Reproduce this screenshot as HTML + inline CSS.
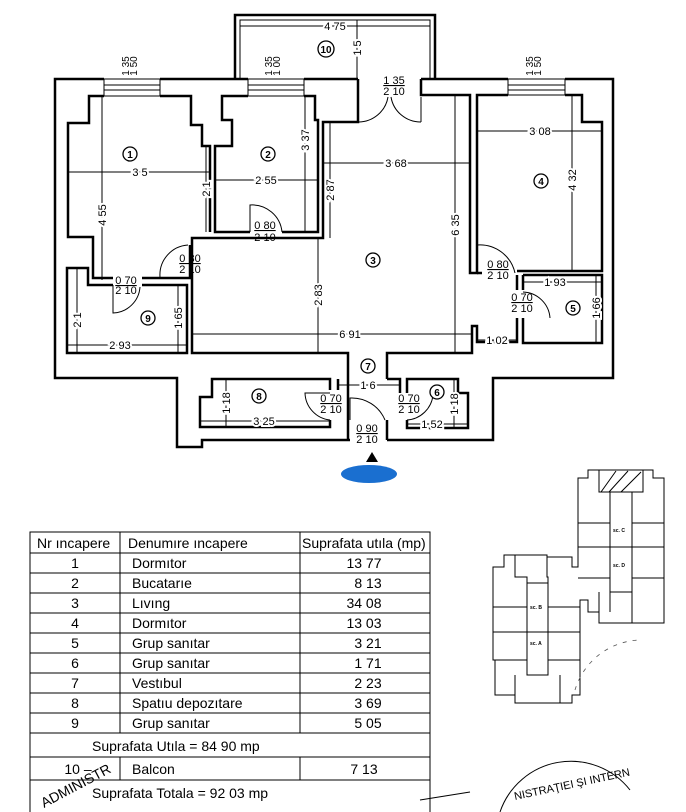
<!DOCTYPE html>
<html><head><meta charset="utf-8"><style>
html,body{margin:0;padding:0;background:#fff;}
svg{display:block;}
.w{fill:none;stroke:#000;stroke-width:2.5;stroke-linejoin:miter}
.d{fill:none;stroke:#000;stroke-width:1}
.t{font-family:"Liberation Sans",sans-serif;font-size:11px;fill:#000}
.tb{font-family:"Liberation Sans",sans-serif;font-size:14px;fill:#000}
.c{fill:#fff;stroke:#000;stroke-width:1.3}
.n{font-family:"Liberation Sans",sans-serif;font-size:10px;fill:#000;text-anchor:middle;font-weight:bold}
</style></head><body>
<svg width="686" height="812" viewBox="0 0 686 812" xmlns="http://www.w3.org/2000/svg">
<path class="w" d="M235,79 V15 H435 V79"/>
<path class="d" d="M240,79 V20 H430 V79" stroke-width="1.5"/>
<path class="w" d="M104,79 H55 V378 H177 V447 H202 V440 H350 M387,440 H493 V378 H613 V79 H565 M508,79 H421 M358,79 H304 M248,79 H160"/>
<g class="d"><rect x="104" y="79" width="56" height="17"/><line x1="104" y1="85" x2="160" y2="85"/><line x1="104" y1="90" x2="160" y2="90"/>
<rect x="248" y="79" width="56" height="17"/><line x1="248" y1="85" x2="304" y2="85"/><line x1="248" y1="90" x2="304" y2="90"/>
<rect x="508" y="79" width="57" height="16"/><line x1="508" y1="85" x2="565" y2="85"/><line x1="508" y1="90" x2="565" y2="90"/></g>
<path class="w" d="M104,96 H89 V123 H68 V237 H93 V278 H113 M142,278 H190 V245 M160,96 H191 V125 H202 V146 H210 V232"/>
<path class="w" d="M248,96 H222 V120 H232 V146 H215 V232 H250 M282,232 H318 V120 H315 V96 H304"/>
<path class="w" d="M192,278 V238 H323 V122 H358 V79 M421,79 V95 H470 V273 H477 V95 H508"/>
<path class="w" d="M192,278 V353 H348 V440 M387,440 V420 M387,379 V353 H472 V326 H477 V342 H517 V318 M517,290 V275"/>
<path class="w" d="M565,95 H582 V122 H602 V271 H517 M477,273 H482"/>
<path class="w" d="M523,275 H602 V343 H523 V318 M523,290 V275"/>
<path class="w" d="M113,285 H88 V268 H67 V353 H187 V285 H142"/>
<path class="w" d="M330,390 V379 H212 V397 H200 V427 H330 V420"/>
<path class="w" d="M407,393 V379 H458 V393 H468 V428 H407 V420"/>
<path class="w" d="M338,379 V390 M387,379 H400 V393"/>
<g class="d" stroke-width="1.2">
<path d="M250,232 V205 A30,30 0 0 1 282,232"/>
<path d="M188,245 A30,30 0 0 0 160,277"/>
<path d="M113,285 V313 A28,28 0 0 0 140,287"/>
<path d="M477,273 V245 A36,36 0 0 1 515,273"/>
<path d="M523,292 A28,28 0 0 1 550,318"/>
<path d="M358,122 A30,30 0 0 0 388,97 M421,122 A30,30 0 0 1 391,97 M358,122 V97 M421,122 V97"/>
<path d="M330,420 A28,28 0 0 1 305,393 H330"/>
<path d="M407,420 A28,28 0 0 0 433,395"/>
<path d="M350,420 V398 A36,36 0 0 1 385,420"/>
</g>
<g class="d" stroke-width="0.9">
<line x1="240" y1="26" x2="430" y2="26"/><line x1="357" y1="20" x2="357" y2="79"/>
<line x1="68" y1="172" x2="210" y2="172"/><line x1="102" y1="96" x2="102" y2="280"/><line x1="206" y1="146" x2="206" y2="232"/>
<line x1="215" y1="180" x2="318" y2="180"/><line x1="305" y1="96" x2="305" y2="232"/>
<line x1="330" y1="122" x2="330" y2="238"/><line x1="323" y1="163" x2="470" y2="163"/>
<line x1="455" y1="96" x2="455" y2="353"/><line x1="318" y1="238" x2="318" y2="353"/>
<line x1="192" y1="334" x2="472" y2="334"/>
<line x1="477" y1="131" x2="602" y2="131"/><line x1="572" y1="96" x2="572" y2="271"/>
<line x1="523" y1="282" x2="602" y2="282"/><line x1="596" y1="275" x2="596" y2="343"/>
<line x1="477" y1="340" x2="517" y2="340"/>
<line x1="77" y1="268" x2="77" y2="353"/><line x1="67" y1="345" x2="187" y2="345"/><line x1="178" y1="285" x2="178" y2="353"/>
<line x1="226" y1="379" x2="226" y2="427"/><line x1="200" y1="421" x2="330" y2="421"/>
<line x1="338" y1="385" x2="400" y2="385"/>
<line x1="454" y1="379" x2="454" y2="428"/><line x1="407" y1="424" x2="468" y2="424"/>
</g>
<g class="t" text-anchor="middle">
<text x="335" y="30" style="paint-order:stroke;stroke:#fff;stroke-width:4">4 75</text>
<text x="140" y="176" style="paint-order:stroke;stroke:#fff;stroke-width:4">3 5</text>
<text x="266" y="184" style="paint-order:stroke;stroke:#fff;stroke-width:4">2 55</text>
<text x="396" y="167" style="paint-order:stroke;stroke:#fff;stroke-width:4">3 68</text>
<text x="350" y="338" style="paint-order:stroke;stroke:#fff;stroke-width:4">6 91</text>
<text x="540" y="135" style="paint-order:stroke;stroke:#fff;stroke-width:4">3 08</text>
<text x="555" y="286" style="paint-order:stroke;stroke:#fff;stroke-width:4">1 93</text>
<text x="497" y="344" style="paint-order:stroke;stroke:#fff;stroke-width:4">1 02</text>
<text x="120" y="349" style="paint-order:stroke;stroke:#fff;stroke-width:4">2 93</text>
<text x="264" y="425" style="paint-order:stroke;stroke:#fff;stroke-width:4">3 25</text>
<text x="368" y="389" style="paint-order:stroke;stroke:#fff;stroke-width:4">1 6</text>
<text x="432" y="428" style="paint-order:stroke;stroke:#fff;stroke-width:4">1 52</text>
<g style="paint-order:stroke;stroke:#fff;stroke-width:4">
<text transform="translate(361,48) rotate(-90)">1 5</text>
<text transform="translate(106,215) rotate(-90)">4 55</text>
<text transform="translate(210,189) rotate(-90)">2 1</text>
<text transform="translate(309,140) rotate(-90)">3 37</text>
<text transform="translate(334,190) rotate(-90)">2 87</text>
<text transform="translate(459,225) rotate(-90)">6 35</text>
<text transform="translate(322,295) rotate(-90)">2 83</text>
<text transform="translate(576,180) rotate(-90)">4 32</text>
<text transform="translate(600,308) rotate(-90)">1 66</text>
<text transform="translate(81,320) rotate(-90)">2 1</text>
<text transform="translate(182,318) rotate(-90)">1 65</text>
<text transform="translate(230,403) rotate(-90)">1 18</text>
<text transform="translate(458,404) rotate(-90)">1 18</text>
</g>
<text transform="translate(129,66) rotate(-90)" font-size="10">1 35</text>
<text transform="translate(137,66) rotate(-90)" font-size="10">1 50</text>
<text transform="translate(272,66) rotate(-90)" font-size="10">1 35</text>
<text transform="translate(280,66) rotate(-90)" font-size="10">1 00</text>
<text transform="translate(533,66) rotate(-90)" font-size="10">1 35</text>
<text transform="translate(541,66) rotate(-90)" font-size="10">1 50</text>
</g>
<g class="t" text-anchor="middle" font-size="10">
<text x="394" y="84" text-decoration="underline">1 35</text><text x="394" y="95">2 10</text>
<text x="265" y="229" text-decoration="underline">0 80</text><text x="265" y="241">2 10</text>
<text x="190" y="262" text-decoration="underline">0 80</text><text x="190" y="273">2 10</text>
<text x="126" y="284" text-decoration="underline">0 70</text><text x="126" y="294">2 10</text>
<text x="498" y="268" text-decoration="underline">0 80</text><text x="498" y="279">2 10</text>
<text x="522" y="301" text-decoration="underline">0 70</text><text x="522" y="312">2 10</text>
<text x="331" y="402" text-decoration="underline">0 70</text><text x="331" y="413">2 10</text>
<text x="409" y="402" text-decoration="underline">0 70</text><text x="409" y="413">2 10</text>
<text x="367" y="432" text-decoration="underline">0 90</text><text x="367" y="443">2 10</text>
</g>
<g>
<circle class="c" cx="130" cy="154" r="7"/><text class="n" x="130" y="158">1</text>
<circle class="c" cx="268" cy="154" r="7"/><text class="n" x="268" y="158">2</text>
<circle class="c" cx="373" cy="260" r="7"/><text class="n" x="373" y="264">3</text>
<circle class="c" cx="541" cy="181" r="7"/><text class="n" x="541" y="185">4</text>
<circle class="c" cx="573" cy="308" r="7"/><text class="n" x="573" y="312">5</text>
<circle class="c" cx="437" cy="392" r="7"/><text class="n" x="437" y="396">6</text>
<circle class="c" cx="368" cy="366" r="7"/><text class="n" x="368" y="370">7</text>
<circle class="c" cx="259" cy="396" r="7"/><text class="n" x="259" y="400">8</text>
<circle class="c" cx="148" cy="318" r="7"/><text class="n" x="148" y="322">9</text>
<circle class="c" cx="326" cy="49" r="8"/><text class="n" x="326" y="53" font-size="9">10</text>
</g>
<polygon points="372,452 366,462 378,462" fill="#000"/>
<ellipse cx="369" cy="474" rx="28" ry="9" fill="#1a6fd0"/>
<g class="d" stroke-width="1.3">
<rect x="30" y="532" width="400" height="290"/>
<line x1="120" y1="532" x2="120" y2="733"/><line x1="300" y1="532" x2="300" y2="733"/>
<line x1="120" y1="757" x2="120" y2="780"/><line x1="300" y1="757" x2="300" y2="780"/>
<line x1="30" y1="553" x2="430" y2="553"/><line x1="30" y1="573" x2="430" y2="573"/><line x1="30" y1="593" x2="430" y2="593"/>
<line x1="30" y1="613" x2="430" y2="613"/><line x1="30" y1="633" x2="430" y2="633"/><line x1="30" y1="653" x2="430" y2="653"/>
<line x1="30" y1="673" x2="430" y2="673"/><line x1="30" y1="693" x2="430" y2="693"/><line x1="30" y1="713" x2="430" y2="713"/>
<line x1="30" y1="733" x2="430" y2="733"/><line x1="30" y1="757" x2="430" y2="757"/><line x1="30" y1="780" x2="430" y2="780"/>
</g>
<g class="tb">
<text x="37" y="548">Nr  ıncapere</text><text x="128" y="548">Denumıre ıncapere</text><text x="302" y="548">Suprafata utıla (mp)</text>
<g text-anchor="middle">
<text x="75" y="568">1</text><text x="75" y="588">2</text><text x="75" y="608">3</text><text x="75" y="628">4</text><text x="75" y="648">5</text>
<text x="75" y="668">6</text><text x="75" y="688">7</text><text x="75" y="708">8</text><text x="75" y="728">9</text><text x="78" y="774">10 –</text>
<text x="364" y="568">13 77</text><text x="368" y="588">8 13</text><text x="364" y="608">34 08</text><text x="364" y="628">13 03</text>
<text x="368" y="648">3 21</text><text x="368" y="668">1 71</text><text x="368" y="688">2 23</text><text x="368" y="708">3 69</text>
<text x="368" y="728">5 05</text><text x="364" y="774">7 13</text>
</g>
<text x="132" y="568">Dormıtor</text><text x="132" y="588">Bucatarıe</text><text x="132" y="608">Lıvıng</text><text x="132" y="628">Dormıtor</text>
<text x="132" y="648">Grup sanıtar</text><text x="132" y="668">Grup sanıtar</text><text x="132" y="688">Vestıbul</text>
<text x="132" y="708">Spatıu depozıtare</text><text x="132" y="728">Grup sanıtar</text><text x="132" y="774">Balcon</text>
<text x="92" y="751">Suprafata Utıla =  84 90 mp</text>
<text x="92" y="798">Suprafata Totala =  92 03 mp</text>
</g>
<text class="tb" transform="translate(44,808) rotate(-28)" font-size="13">ADMINISTR</text>
<path class="d" d="M420,800 L470,792"/>
<!-- site plan -->
<g class="d" stroke-width="1.2">
<path d="M578,478 H588 V470 H653 V478 H664 V623 H599 V612 H588 V600 H580 V695 H572 V703 H515 V695 H495 V660 H493 V567 H504 V555 H547 V557 H572 V567 H578 Z"/>
<rect x="599" y="470" width="44" height="22"/>
<path d="M601,492 L616,471 M609,492 L628,471 M621,492 L641,472"/>
<path d="M610,492 V592 H632 V492 M578,523 H610 M632,523 H664 M578,547 H664 M578,578 H610 M632,578 H664 M610,592 V612 M632,592 V623 M599,592 V612"/>
<path d="M527,583 V675 H548 V583 H527 M493,607 H527 M548,607 H580 M493,632 H580 M493,660 H527 M548,660 H580 M515,675 V703 M560,675 V703 M515,555 V577 H527 V583 M547,557 V577 H548 V583"/>
</g>
<g font-family="Liberation Sans,sans-serif" font-size="5" font-weight="bold">
<text x="613" y="532">sc. C</text><text x="613" y="567">sc. D</text><text x="530" y="609">sc. B</text><text x="530" y="645">sc. A</text>
</g>
<path d="M575,690 A70,70 0 0 1 640,640" fill="none" stroke="#555" stroke-width="0.8" stroke-dasharray="4 6"/>
<text transform="translate(515,800) rotate(-12)" font-family="Liberation Sans,sans-serif" font-size="11" fill="#000">NISTRAŢIEI ŞI INTERN</text>
<path d="M500,812 A75,75 0 0 1 630,790" fill="none" stroke="#000" stroke-width="1"/>
</svg>
</body></html>
